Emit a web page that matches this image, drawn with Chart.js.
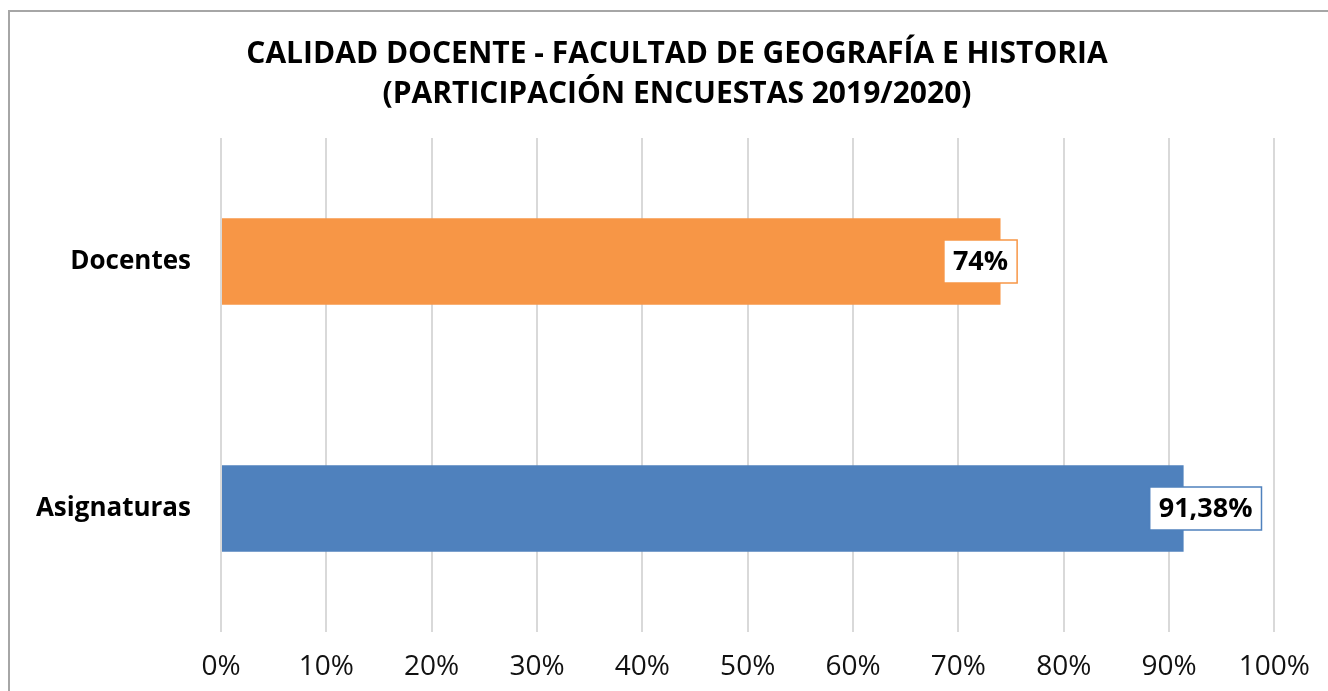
<!DOCTYPE html>
<html>
<head>
<meta charset="utf-8">
<script src="https://cdn.jsdelivr.net/npm/chart.js@4/dist/chart.umd.min.js"></script>
<style>
  html, body { margin: 0; padding: 0; background: #fff; overflow: hidden; }
  #wrap { position: relative; width: 1328px; height: 691px; }
  #frame { position: absolute; left: 8px; top: 10px; width: 1400px; height: 800px;
           border: 2px solid #a6a6a6; box-sizing: border-box; }
  canvas { position: absolute; left: 0; top: 0; }
</style>
</head>
<body>
<div id="wrap">
  <div id="frame"></div>
  <canvas id="chart" width="1328" height="691"></canvas>
</div>
<script>
var categories = ['Docentes', 'Asignaturas'];
var values = [74, 91.38];
var valueLabels = ['74%', '91,38%'];
var barColors = ['#F79646', '#4F81BD'];
var xTicks = [0, 10, 20, 30, 40, 50, 60, 70, 80, 90, 100];
var titleLines = ['CALIDAD DOCENTE - FACULTAD DE GEOGRAFÍA E HISTORIA', '(PARTICIPACIÓN ENCUESTAS 2019/2020)'];

var FONT = '"Open Sans", sans-serif';

// title is centred on the whole frame, not on the plot, so draw it by hand
var frameTitle = {
    id: 'frameTitle',
    afterDraw: function (chart, args, opts) {
        var ctx = chart.ctx;
        ctx.save();
        ctx.font = 'bold 30px ' + FONT;
        ctx.fillStyle = '#000';
        ctx.textAlign = 'center';
        ctx.textBaseline = 'middle';
        titleLines.forEach(function (line, i) {
            ctx.fillText(line, opts.x, opts.y + i * opts.gap);
        });
        ctx.restore();
    }
};

// label boxes drawn at the end of each bar, like the Excel data labels
var boxLabels = {
    id: 'boxLabels',
    afterDatasetsDraw: function (chart, args, opts) {
        var ctx = chart.ctx;
        var meta = chart.getDatasetMeta(0);
        ctx.save();
        ctx.font = 'bold 27px ' + FONT;
        ctx.textAlign = 'center';
        ctx.textBaseline = 'middle';
        meta.data.forEach(function (bar, i) {
            var txt = valueLabels[i];
            var w = ctx.measureText(txt).width + 18;
            var h = 43;
            var cx = bar.x + opts.shift[i];
            var cy = bar.y;
            ctx.fillStyle = '#fff';
            ctx.fillRect(cx - w / 2, cy - h / 2, w, h);
            ctx.strokeStyle = barColors[i];
            ctx.lineWidth = 1.5;
            ctx.strokeRect(cx - w / 2, cy - h / 2, w, h);
            ctx.fillStyle = '#000';
            ctx.fillText(txt, cx, cy + 1);
        });
        ctx.restore();
    }
};

new Chart(document.getElementById('chart'), {
    type: 'bar',
    data: {
        labels: categories,
        datasets: [{
            data: values,
            backgroundColor: barColors,
            barPercentage: 0.35,
            categoryPercentage: 1
        }]
    },
    options: {
        indexAxis: 'y',
        responsive: false,
        animation: false,
        layout: { padding: { left: 0, right: 53, top: 138, bottom: 10 } },
        plugins: {
            legend: { display: false },
            tooltip: { enabled: false },
            frameTitle: { x: 677, y: 54, gap: 40 },
            boxLabels: { shift: [-20, 22] }
        },
        scales: {
            x: {
                min: 0,
                max: 100,
                afterBuildTicks: function (axis) {
                    axis.ticks = xTicks.map(function (v) { return { value: v }; });
                },
                afterFit: function (axis) { axis.height = 49; },
                grid: { color: '#d9d9d9', lineWidth: 2, drawTicks: false },
                border: { display: false },
                ticks: {
                    color: '#111',
                    font: { family: FONT, size: 28 },
                    padding: 18,
                    maxRotation: 0,
                    callback: function (v) { return v + '%'; }
                }
            },
            y: {
                grid: { display: false },
                border: { display: false },
                afterFit: function (axis) { axis.width = 221; },
                ticks: {
                    color: '#000',
                    font: { family: FONT, size: 26, weight: 'bold' },
                    padding: 22
                }
            }
        }
    },
    plugins: [boxLabels, frameTitle]
});
</script>
</body>
</html>
